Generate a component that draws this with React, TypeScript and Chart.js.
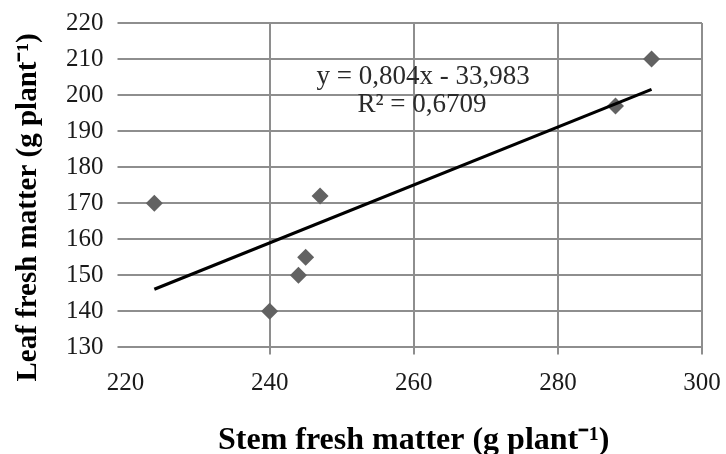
import React, { useEffect, useRef } from "react";
import { Chart, registerables } from "chart.js";

Chart.register(...registerables);

const stemFresh = [224, 240, 244, 245, 247, 288, 293];
const leafFresh = [170, 140, 150, 155, 172, 197, 210];
const trendSlope = 0.804;
const trendIntercept = -33.983;
const trendRange = [224, 293];
const equationLines = ["y = 0,804x - 33,983", "R² = 0,6709"];
const equationAnchor = [246.5, 205]; // data coords of the first line's left edge
const xAxisTitle = "Stem fresh matter (g plant⁻¹)";
const yAxisTitle = "Leaf fresh matter (g plant⁻¹)";

const SERIF = "'Liberation Serif', 'Times New Roman', serif";

export default function App() {
  const ref = useRef<HTMLCanvasElement | null>(null);

  useEffect(() => {
    if (!ref.current) return;
    const points = stemFresh.map((x, i) => ({ x, y: leafFresh[i] }));
    const trend = trendRange.map((x) => ({ x, y: trendSlope * x + trendIntercept }));

    const textPlugin = {
      id: "texts",
      afterDatasetsDraw(chart: any) {
        const { ctx, scales, chartArea } = chart;
        const px = scales.x.getPixelForValue(equationAnchor[0]);
        const py = scales.y.getPixelForValue(equationAnchor[1]);
        ctx.save();
        ctx.font = `27px ${SERIF}`;
        ctx.fillStyle = "#2a2a2a";
        ctx.textBaseline = "middle";
        ctx.textAlign = "left";
        ctx.fillText(equationLines[0], px, py);
        ctx.fillText(equationLines[1], px + 41, py + 28);
        ctx.restore();

        // y axis title, placed slightly below the axis centre as in the reference
        ctx.save();
        ctx.font = `bold 29px ${SERIF}`;
        ctx.fillStyle = "#000";
        ctx.textAlign = "center";
        ctx.textBaseline = "middle";
        ctx.translate(chartArea.left - 97, chartArea.bottom - 140);
        ctx.rotate(-Math.PI / 2);
        ctx.fillText(yAxisTitle, 0, 0);
        ctx.restore();
      },
    };

    const chart = new Chart(ref.current, {
      type: "scatter",
      data: {
        datasets: [
          {
            type: "line",
            data: trend,
            borderColor: "#000",
            borderWidth: 3.2,
            pointRadius: 0,
            fill: false,
          } as any,
          {
            data: points,
            pointStyle: "rectRot",
            pointRadius: 8.5,
            pointHoverRadius: 8.5,
            backgroundColor: "#626262",
            borderColor: "#626262",
            borderWidth: 0,
          },
        ],
      },
      options: {
        animation: false,
        responsive: true,
        maintainAspectRatio: false,
        layout: { padding: { left: 52, top: 0, right: 0, bottom: 0 } },
        plugins: {
          legend: { display: false },
          tooltip: { enabled: false },
        },
        scales: {
          x: {
            type: "linear",
            min: 220,
            max: 300,
            afterFit: (s: any) => {
              s.paddingRight = 24;
            },
            ticks: {
              stepSize: 20,
              color: "#1a1a1a",
              font: { family: SERIF, size: 25 },
              padding: 14,
            },
            grid: {
              color: (c: any) => (c.index === 0 ? "rgba(0,0,0,0)" : "#8e8e8e"),
              lineWidth: 2,
              tickLength: 7,
            },
            border: { display: false },
            title: {
              display: true,
              text: xAxisTitle,
              color: "#000",
              font: { family: SERIF, size: 32, weight: "bold", lineHeight: 0.8 },
              padding: { top: 16, bottom: 0 },
            },
          },
          y: {
            type: "linear",
            min: 130,
            max: 220,
            afterFit: (s: any) => {
              s.paddingTop = 23;
            },
            ticks: {
              stepSize: 10,
              color: "#1a1a1a",
              font: { family: SERIF, size: 25 },
              padding: 14,
            },
            grid: {
              color: "#8e8e8e",
              lineWidth: 2,
              tickLength: 8,
            },
            border: { display: false },
          },
        },
      },
      plugins: [textPlugin],
    });
    return () => chart.destroy();
  }, []);

  return (
    <div style={{ position: "fixed", left: 0, top: 0, width: 726, height: 454, background: "#fff" }}>
      <canvas ref={ref} />
    </div>
  );
}
